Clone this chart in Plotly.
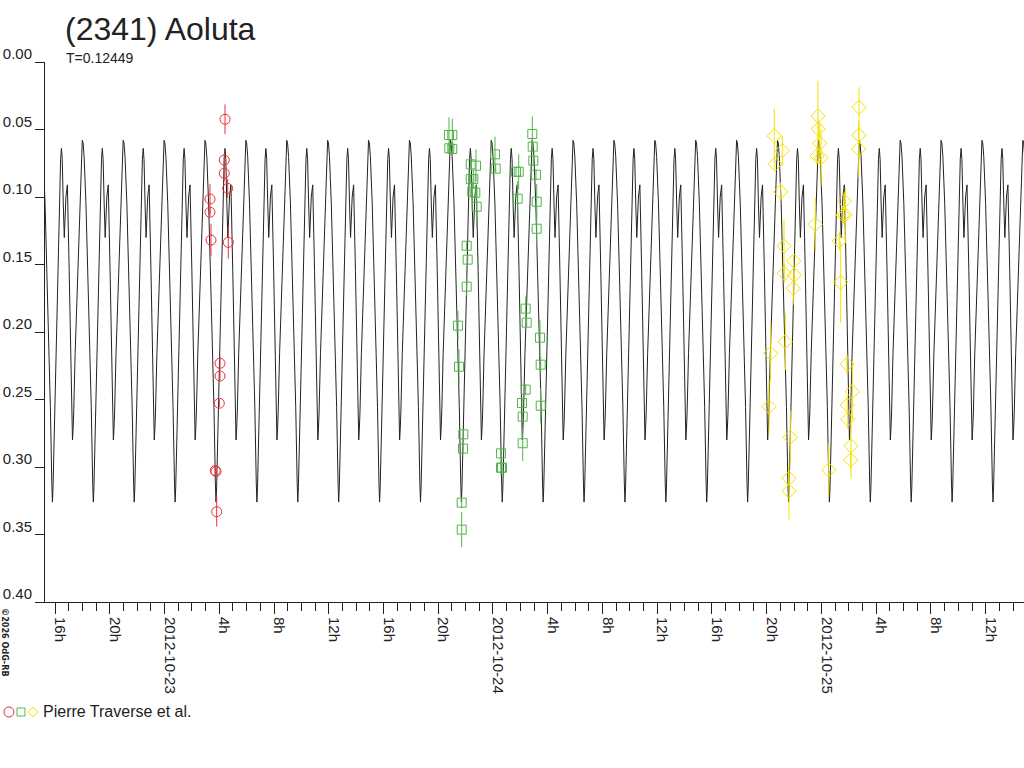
import pandas as pd
import plotly.graph_objects as go

# times are hours after 2012-10-23 00:00 UT, magnitudes relative
BASE = pd.Timestamp("2012-10-23 00:00")
PERIOD_H = 0.12449 * 24
T_PEAK = 29.846  # a main maximum of the model curve

# one cycle of the model curve (phase 0 = main maximum)
curve_phase = [0.00, 0.02, 0.045, 0.09, 0.13, 0.17, 0.22, 0.255, 0.27, 0.285, 0.30, 0.335, 0.40,
               0.44, 0.47, 0.49, 0.51, 0.535, 0.56, 0.60, 0.635, 0.68, 0.727, 0.75, 0.76, 0.775,
               0.79, 0.825, 0.865, 0.905, 0.955, 0.98]
curve_mag = [0.058, 0.060, 0.070, 0.105, 0.150, 0.191, 0.256, 0.312, 0.326, 0.315, 0.295, 0.253,
             0.161, 0.105, 0.072, 0.064, 0.072, 0.105, 0.130, 0.100, 0.091, 0.155, 0.221, 0.270,
             0.280, 0.272, 0.260, 0.216, 0.180, 0.141, 0.085, 0.062]

red_t = [4.420, 4.369, 4.369, 4.618, 3.324, 3.324, 3.397, 4.661, 4.055, 4.055, 4.004,
         3.712, 3.763, 3.814]
red_mag = [0.0424, 0.0726, 0.0824, 0.0936, 0.1015, 0.1113, 0.1319, 0.1336, 0.2232, 0.2326,
           0.2528, 0.3026, 0.3033, 0.3331]
red_err = [0.011, 0.005, 0.006, 0.007, 0.011, 0.003, 0.012, 0.012, 0.005, 0.003,
           0.003, 0.003, 0.003, 0.011]

green_t = [20.786, 21.027, 20.808, 21.027, 22.372, 22.759, 22.372, 22.562, 22.489, 22.708,
           22.810, 22.079, 22.152, 22.079, 21.444, 21.517, 21.831, 21.809, 21.714, 21.714,
           24.147, 24.198, 24.585, 24.585, 24.658, 25.681, 25.878, 25.805, 26.872, 26.902,
           26.945, 27.142, 27.194, 27.194, 26.390, 26.463, 27.435, 27.486, 26.390, 26.120,
           26.171, 27.486, 26.171]
green_mag = [0.0541, 0.0541, 0.0639, 0.0644, 0.0758, 0.0768, 0.0867, 0.0867, 0.0961, 0.0968,
             0.1072, 0.1361, 0.1464, 0.1664, 0.1953, 0.2257, 0.2758, 0.2864, 0.3264, 0.3464,
             0.0684, 0.0790, 0.2899, 0.3005, 0.3005, 0.0813, 0.0813, 0.1013, 0.0533, 0.0627,
             0.0731, 0.0835, 0.1035, 0.1235, 0.1827, 0.1931, 0.2042, 0.2242, 0.2427, 0.2526,
             0.2627, 0.2546, 0.2824]
green_err = [0.013, 0.012, 0.004, 0.004, 0.004, 0.012, 0.004, 0.006, 0.007, 0.004,
             0.015, 0.003, 0.003, 0.007, 0.011, 0.013, 0.004, 0.004, 0.004, 0.013,
             0.013, 0.003, 0.004, 0.006, 0.003, 0.003, 0.013, 0.013, 0.013, 0.004,
             0.004, 0.004, 0.013, 0.013, 0.009, 0.003, 0.013, 0.006, 0.004, 0.004,
             0.004, 0.013, 0.013]

yellow_t = [44.553, 45.138, 44.605, 45.021, 45.262, 45.284, 45.971, 46.015, 45.942, 45.357,
            44.290, 44.166, 45.722, 45.628, 45.628, 47.746, 47.768, 47.871, 47.673, 47.965,
            47.549, 50.742, 50.742, 50.720, 49.668, 49.573, 49.741, 49.302, 49.405, 49.865,
            50.252, 49.887, 49.916, 50.157, 50.135, 48.528]
yellow_mag = [0.0548, 0.0657, 0.0756, 0.0961, 0.1363, 0.1565, 0.1474, 0.1578, 0.1676, 0.2072,
              0.2158, 0.2553, 0.2780, 0.3084, 0.3178, 0.0400, 0.0496, 0.0602, 0.0696, 0.0709,
              0.1202, 0.0336, 0.0541, 0.0644, 0.1030, 0.1133, 0.1133, 0.1326, 0.1632, 0.2239,
              0.2442, 0.2541, 0.2647, 0.2844, 0.2948, 0.3022]
yellow_err = [0.020, 0.011, 0.004, 0.007, 0.020, 0.007, 0.004, 0.004, 0.012, 0.021,
              0.021, 0.020, 0.020, 0.004, 0.021, 0.026, 0.007, 0.015, 0.006, 0.021,
              0.020, 0.015, 0.007, 0.021, 0.007, 0.007, 0.021, 0.007, 0.030, 0.007,
              0.021, 0.007, 0.007, 0.024, 0.007, 0.020]

tick_hours = [-8, -4, 0, 4, 8, 12, 16, 20, 24, 28, 32, 36, 40, 44, 48, 52, 56, 60]
tick_labels = ["16h", "20h", "2012-10-23", "4h", "8h", "12h", "16h", "20h", "2012-10-24",
               "4h", "8h", "12h", "16h", "20h", "2012-10-25", "4h", "8h", "12h"]

x_range_h = [-8.731, 62.797]


def to_time(hours):
    return BASE + pd.to_timedelta(pd.Series(hours, dtype=float), unit="h")


curve_h = []
curve_y = []
for k in range(-15, 13):
    for p, m in zip(curve_phase, curve_mag):
        curve_h.append(T_PEAK + (k + p) * PERIOD_H)
        curve_y.append(m)

TXT = "#222222"
RED = "#e8303a"
GREEN = "#52b548"
YELLOW = "#f5e100"

fig = go.Figure()
fig.add_trace(go.Scatter(x=to_time(curve_h), y=curve_y, mode="lines",
                         line=dict(color="#222222", width=1), showlegend=False))

for t, m, e, color, symbol, size in [
    (red_t, red_mag, red_err, RED, "circle-open", 10),
    (green_t, green_mag, green_err, GREEN, "square-open", 9),
    (yellow_t, yellow_mag, yellow_err, YELLOW, "diamond-open", 11),
]:
    fig.add_trace(go.Scatter(
        x=to_time(t), y=m, mode="markers",
        marker=dict(symbol=symbol, size=size, color=color, line=dict(color=color, width=1)),
        error_y=dict(type="data", array=e, color=color, thickness=1, width=0),
        showlegend=False))

fig.update_layout(
    width=1024, height=768,
    margin=dict(l=45, r=0, t=62, b=166, autoexpand=False),
    paper_bgcolor="white", plot_bgcolor="white",
    font=dict(family="Liberation Sans, Arial, sans-serif", size=15, color=TXT),
    showlegend=False,
)

fig.update_xaxes(
    type="date", automargin=False,
    range=list(to_time(x_range_h)),
    tickvals=list(to_time(tick_hours)), ticktext=tick_labels,
    tickangle=90, ticks="outside", ticklen=11, tickcolor=TXT, tickwidth=1,
    ticklabelshift=5,
    minor=dict(dtick=3600000, tick0="2012-10-23", ticks="outside", ticklen=8,
               tickcolor=TXT, tickwidth=1),
    showline=True, linecolor=TXT, linewidth=1,
    showgrid=False, zeroline=False,
    tickfont=dict(size=15, color=TXT),
)
fig.update_yaxes(
    automargin=False,
    range=[0.40, 0.0], dtick=0.05, tick0=0, tickformat=".2f",
    ticks="outside", ticklen=9, tickcolor=TXT, tickwidth=1,
    ticklabelshift=8,
    showline=True, linecolor=TXT, linewidth=1,
    showgrid=False, zeroline=False,
    tickfont=dict(size=15, color=TXT),
)

fig.add_annotation(text="(2341) Aoluta", xref="paper", yref="paper",
                   x=0.0184, y=1.061, xanchor="left", yanchor="middle",
                   showarrow=False, font=dict(size=32, color=TXT))
fig.add_annotation(text="T=0.12449", xref="paper", yref="paper",
                   x=0.0194, y=1.0074, xanchor="left", yanchor="middle",
                   showarrow=False, font=dict(size=14, color=TXT))
fig.add_annotation(text="Pierre Traverse et al.",
                   xref="paper", yref="paper", x=-0.004, y=-0.2037,
                   xanchor="left", yanchor="middle",
                   showarrow=False, font=dict(size=16, color=TXT))
fig.add_annotation(text="<b>©2026 OdG-RB</b>", xref="paper", yref="paper",
                   x=-0.0409, y=-0.0759, textangle=90, showarrow=False,
                   xanchor="center", yanchor="middle",
                   font=dict(family="DejaVu Sans Condensed, DejaVu Sans", size=9, color=TXT))

# legend symbols, sized in pixels around an anchor in paper coordinates
legend_y = -0.2037
sym = dict(xref="paper", yref="paper", xsizemode="pixel", ysizemode="pixel",
           yanchor=legend_y)
fig.add_shape(type="circle", xanchor=-0.0368, x0=-5, x1=5, y0=-5, y1=5,
              line=dict(color=RED, width=1), **sym)
fig.add_shape(type="rect", xanchor=-0.0245, x0=-4, x1=4, y0=-4, y1=4,
              line=dict(color=GREEN, width=1), **sym)
fig.add_shape(type="path", xanchor=-0.0123, path="M -5 0 L 0 5 L 5 0 L 0 -5 Z",
              line=dict(color=YELLOW, width=1), **sym)

# the page body has a default margin; drop it so the figure sits at the window corner
fig.write_html("out.html", config={"displayModeBar": False},
               post_script="document.body.style.margin='0';document.body.style.overflow='hidden';")
